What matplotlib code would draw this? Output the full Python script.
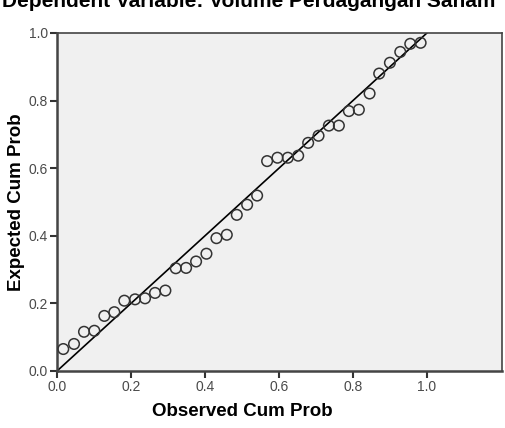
import numpy as np
import matplotlib.pyplot as plt

plt.rcParams['font.family'] = ['Liberation Sans', 'DejaVu Sans']

# observed vs expected cumulative probabilities
observed = [0.017, 0.046, 0.073, 0.101, 0.128, 0.155, 0.182, 0.211, 0.238,
            0.265, 0.293, 0.321, 0.349, 0.376, 0.404, 0.431, 0.459, 0.486,
            0.514, 0.541, 0.568, 0.596, 0.624, 0.652, 0.679, 0.707, 0.735,
            0.762, 0.789, 0.816, 0.845, 0.871, 0.900, 0.928, 0.955, 0.983]
expected = [0.065, 0.080, 0.116, 0.119, 0.163, 0.174, 0.208, 0.212, 0.215,
            0.231, 0.238, 0.304, 0.305, 0.324, 0.347, 0.393, 0.403, 0.462,
            0.492, 0.519, 0.621, 0.631, 0.631, 0.637, 0.675, 0.696, 0.726,
            0.726, 0.769, 0.773, 0.821, 0.880, 0.912, 0.944, 0.968, 0.971]
ticks = [0.0, 0.2, 0.4, 0.6, 0.8, 1.0]
ref_line = [0.0, 1.0]

fig = plt.figure(figsize=(5.05, 4.28), dpi=100)
ax = fig.add_axes([57/505, 57/428, 445/505, 338/428])
ax.set_facecolor('#f0f0f0')

ax.plot(ref_line, ref_line, color='black', lw=1.2, zorder=2)
ax.scatter(observed, expected, s=58, facecolors='none', edgecolors='#333333',
           linewidths=1.1, zorder=3)

ax.set_xlim(0, 1.203)
ax.set_ylim(0, 1.0)
ax.set_xticks(ticks)
ax.set_yticks(ticks)
ax.set_xticklabels([f'{t:.1f}' for t in ticks])
ax.set_yticklabels([f'{t:.1f}' for t in ticks])
ax.tick_params(direction='out', length=5, width=1.5, color='#333333',
               labelsize=10, labelcolor='#4a4a4a', pad=1.5)
for s in ax.spines.values():
    s.set_color('#444444')
    s.set_linewidth(1.2)
ax.spines['left'].set_linewidth(1.8)
ax.spines['bottom'].set_linewidth(1.8)

ax.set_xlabel('Observed Cum Prob', fontsize=13.5, fontweight='bold')
ax.xaxis.set_label_coords(0.5 / 1.203, -0.095)
ax.set_ylabel('Expected Cum Prob', fontsize=13.5, fontweight='bold')
ax.yaxis.set_label_coords(-0.072, 0.5)

fig.text(0.003, 1 - 7/428, 'Dependent Variable: Volume Perdagangan Saham',
         fontsize=15, fontweight='bold', va='baseline', ha='left')

fig.savefig('out.png', dpi=100)
